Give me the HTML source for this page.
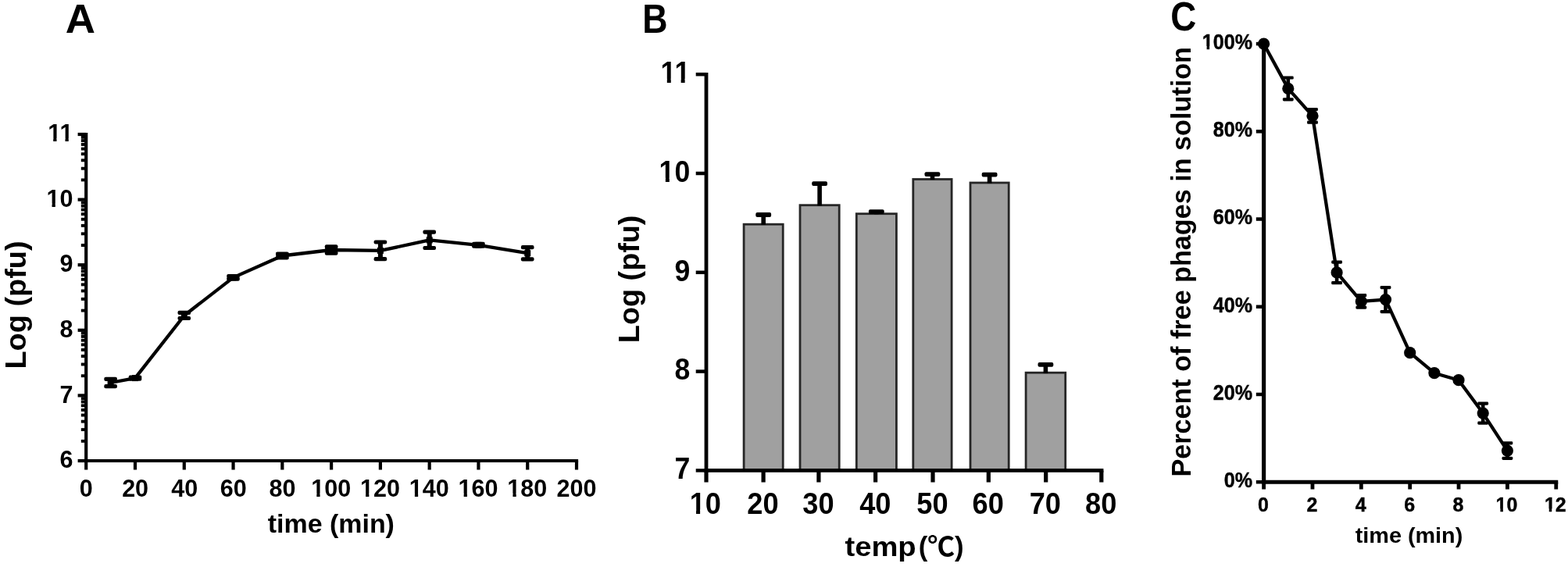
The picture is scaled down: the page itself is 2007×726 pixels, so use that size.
<!DOCTYPE html>
<html><head><meta charset="utf-8"><title>Figure: phage growth, thermal stability and adsorption</title>
<style>
html,body{margin:0;padding:0;background:#fff;}
body{width:2007px;height:726px;overflow:hidden;}
svg{display:block;}
</style></head>
<body>
<svg width="2007" height="726" viewBox="0 0 2007 726">
<rect width="2007" height="726" fill="#fff"/>
<g stroke="#000" fill="none">
<line x1="110.20" y1="170.00" x2="110.20" y2="592.10" stroke-width="4.2"/>
<line x1="108.10" y1="590.00" x2="740.10" y2="590.00" stroke-width="4.2"/>
<line x1="110.20" y1="590.00" x2="99.60" y2="590.00" stroke-width="4.2"/>
<line x1="110.20" y1="506.40" x2="99.60" y2="506.40" stroke-width="4.2"/>
<line x1="110.20" y1="422.80" x2="99.60" y2="422.80" stroke-width="4.2"/>
<line x1="110.20" y1="339.20" x2="99.60" y2="339.20" stroke-width="4.2"/>
<line x1="110.20" y1="255.60" x2="99.60" y2="255.60" stroke-width="4.2"/>
<line x1="110.20" y1="172.00" x2="99.60" y2="172.00" stroke-width="4.2"/>
<line x1="110.20" y1="564.83" x2="103.80" y2="564.83" stroke-width="3.9"/>
<line x1="110.20" y1="550.11" x2="103.80" y2="550.11" stroke-width="3.9"/>
<line x1="110.20" y1="539.67" x2="103.80" y2="539.67" stroke-width="3.9"/>
<line x1="110.20" y1="531.57" x2="103.80" y2="531.57" stroke-width="3.9"/>
<line x1="110.20" y1="524.95" x2="103.80" y2="524.95" stroke-width="3.9"/>
<line x1="110.20" y1="519.35" x2="103.80" y2="519.35" stroke-width="3.9"/>
<line x1="110.20" y1="514.50" x2="103.80" y2="514.50" stroke-width="3.9"/>
<line x1="110.20" y1="510.23" x2="103.80" y2="510.23" stroke-width="3.9"/>
<line x1="110.20" y1="481.23" x2="103.80" y2="481.23" stroke-width="3.9"/>
<line x1="110.20" y1="466.51" x2="103.80" y2="466.51" stroke-width="3.9"/>
<line x1="110.20" y1="456.07" x2="103.80" y2="456.07" stroke-width="3.9"/>
<line x1="110.20" y1="447.97" x2="103.80" y2="447.97" stroke-width="3.9"/>
<line x1="110.20" y1="441.35" x2="103.80" y2="441.35" stroke-width="3.9"/>
<line x1="110.20" y1="435.75" x2="103.80" y2="435.75" stroke-width="3.9"/>
<line x1="110.20" y1="430.90" x2="103.80" y2="430.90" stroke-width="3.9"/>
<line x1="110.20" y1="426.63" x2="103.80" y2="426.63" stroke-width="3.9"/>
<line x1="110.20" y1="397.63" x2="103.80" y2="397.63" stroke-width="3.9"/>
<line x1="110.20" y1="382.91" x2="103.80" y2="382.91" stroke-width="3.9"/>
<line x1="110.20" y1="372.47" x2="103.80" y2="372.47" stroke-width="3.9"/>
<line x1="110.20" y1="364.37" x2="103.80" y2="364.37" stroke-width="3.9"/>
<line x1="110.20" y1="357.75" x2="103.80" y2="357.75" stroke-width="3.9"/>
<line x1="110.20" y1="352.15" x2="103.80" y2="352.15" stroke-width="3.9"/>
<line x1="110.20" y1="347.30" x2="103.80" y2="347.30" stroke-width="3.9"/>
<line x1="110.20" y1="343.03" x2="103.80" y2="343.03" stroke-width="3.9"/>
<line x1="110.20" y1="314.03" x2="103.80" y2="314.03" stroke-width="3.9"/>
<line x1="110.20" y1="299.31" x2="103.80" y2="299.31" stroke-width="3.9"/>
<line x1="110.20" y1="288.87" x2="103.80" y2="288.87" stroke-width="3.9"/>
<line x1="110.20" y1="280.77" x2="103.80" y2="280.77" stroke-width="3.9"/>
<line x1="110.20" y1="274.15" x2="103.80" y2="274.15" stroke-width="3.9"/>
<line x1="110.20" y1="268.55" x2="103.80" y2="268.55" stroke-width="3.9"/>
<line x1="110.20" y1="263.70" x2="103.80" y2="263.70" stroke-width="3.9"/>
<line x1="110.20" y1="259.43" x2="103.80" y2="259.43" stroke-width="3.9"/>
<line x1="110.20" y1="230.43" x2="103.80" y2="230.43" stroke-width="3.9"/>
<line x1="110.20" y1="215.71" x2="103.80" y2="215.71" stroke-width="3.9"/>
<line x1="110.20" y1="205.27" x2="103.80" y2="205.27" stroke-width="3.9"/>
<line x1="110.20" y1="197.17" x2="103.80" y2="197.17" stroke-width="3.9"/>
<line x1="110.20" y1="190.55" x2="103.80" y2="190.55" stroke-width="3.9"/>
<line x1="110.20" y1="184.95" x2="103.80" y2="184.95" stroke-width="3.9"/>
<line x1="110.20" y1="180.10" x2="103.80" y2="180.10" stroke-width="3.9"/>
<line x1="110.20" y1="175.83" x2="103.80" y2="175.83" stroke-width="3.9"/>
<line x1="110.20" y1="590.00" x2="110.20" y2="601.50" stroke-width="4.2"/>
<line x1="172.98" y1="590.00" x2="172.98" y2="601.50" stroke-width="4.2"/>
<line x1="235.76" y1="590.00" x2="235.76" y2="601.50" stroke-width="4.2"/>
<line x1="298.54" y1="590.00" x2="298.54" y2="601.50" stroke-width="4.2"/>
<line x1="361.32" y1="590.00" x2="361.32" y2="601.50" stroke-width="4.2"/>
<line x1="424.10" y1="590.00" x2="424.10" y2="601.50" stroke-width="4.2"/>
<line x1="486.88" y1="590.00" x2="486.88" y2="601.50" stroke-width="4.2"/>
<line x1="549.66" y1="590.00" x2="549.66" y2="601.50" stroke-width="4.2"/>
<line x1="612.44" y1="590.00" x2="612.44" y2="601.50" stroke-width="4.2"/>
<line x1="675.22" y1="590.00" x2="675.22" y2="601.50" stroke-width="4.2"/>
<line x1="738.00" y1="590.00" x2="738.00" y2="601.50" stroke-width="4.2"/>
</g>
<polyline points="141.6,490.0 173.0,484.1 235.8,404.0 298.5,355.4 361.3,327.5 424.1,320.0 486.9,320.9 549.7,307.4 612.4,313.8 675.2,324.2" fill="none" stroke="#000" stroke-width="4.3" stroke-linejoin="round"/>
<g fill="#000" stroke="none">
<rect x="138.6" y="485.4" width="6" height="9.2"/>
<rect x="133.3" y="482.8" width="16.6" height="5.2" rx="2"/>
<rect x="133.3" y="492.0" width="16.6" height="5.2" rx="2"/>
<rect x="137.6" y="486.0" width="8.0" height="8"/>
<rect x="170.0" y="483.0" width="6" height="2.2"/>
<rect x="164.7" y="480.4" width="16.6" height="5.2" rx="2"/>
<rect x="164.7" y="482.6" width="16.6" height="5.2" rx="2"/>
<rect x="169.0" y="480.1" width="8.0" height="8"/>
<rect x="232.8" y="400.4" width="6" height="7.1"/>
<rect x="227.5" y="397.8" width="16.6" height="5.2" rx="2"/>
<rect x="227.5" y="404.9" width="16.6" height="5.2" rx="2"/>
<rect x="231.8" y="400.0" width="8.0" height="8"/>
<rect x="295.5" y="353.5" width="6" height="3.7"/>
<rect x="290.2" y="350.9" width="16.6" height="5.2" rx="2"/>
<rect x="290.2" y="354.6" width="16.6" height="5.2" rx="2"/>
<rect x="294.5" y="351.4" width="8.0" height="8"/>
<rect x="358.3" y="325.0" width="6" height="5.0"/>
<rect x="353.0" y="322.4" width="16.6" height="5.2" rx="2"/>
<rect x="353.0" y="327.4" width="16.6" height="5.2" rx="2"/>
<rect x="353.3" y="323.5" width="16.0" height="8"/>
<rect x="421.1" y="315.9" width="6" height="8.3"/>
<rect x="415.8" y="313.2" width="16.6" height="5.2" rx="2"/>
<rect x="415.8" y="321.5" width="16.6" height="5.2" rx="2"/>
<rect x="416.1" y="316.0" width="16.0" height="8"/>
<rect x="483.9" y="310.0" width="6" height="21.7"/>
<rect x="478.6" y="307.4" width="16.6" height="5.2" rx="2"/>
<rect x="478.6" y="329.1" width="16.6" height="5.2" rx="2"/>
<rect x="482.9" y="316.9" width="8.0" height="8"/>
<rect x="546.7" y="297.2" width="6" height="20.3"/>
<rect x="541.4" y="294.6" width="16.6" height="5.2" rx="2"/>
<rect x="541.4" y="314.9" width="16.6" height="5.2" rx="2"/>
<rect x="545.7" y="303.4" width="8.0" height="8"/>
<rect x="609.4" y="312.4" width="6" height="2.8"/>
<rect x="604.1" y="309.8" width="16.6" height="5.2" rx="2"/>
<rect x="604.1" y="312.6" width="16.6" height="5.2" rx="2"/>
<rect x="608.4" y="309.8" width="8.0" height="8"/>
<rect x="672.2" y="316.6" width="6" height="15.3"/>
<rect x="666.9" y="314.0" width="16.6" height="5.2" rx="2"/>
<rect x="666.9" y="329.3" width="16.6" height="5.2" rx="2"/>
<rect x="671.2" y="320.2" width="8.0" height="8"/>
</g>
<g>
<rect x="952.1" y="287.2" width="50.1" height="315.2" fill="#a0a0a0" stroke="#262626" stroke-width="2.8"/>
<rect x="1024.0" y="262.7" width="50.2" height="339.7" fill="#a0a0a0" stroke="#262626" stroke-width="2.8"/>
<rect x="1096.3" y="273.7" width="51.1" height="328.7" fill="#a0a0a0" stroke="#262626" stroke-width="2.8"/>
<rect x="1168.8" y="229.5" width="49.3" height="372.9" fill="#a0a0a0" stroke="#262626" stroke-width="2.8"/>
<rect x="1242.0" y="234.0" width="49.2" height="368.4" fill="#a0a0a0" stroke="#262626" stroke-width="2.8"/>
<rect x="1313.1" y="477.2" width="50.6" height="125.2" fill="#a0a0a0" stroke="#262626" stroke-width="2.8"/>
</g>
<g fill="#000" stroke="none">
<rect x="974.4" y="273.6" width="5.6" height="14.2"/>
<rect x="967.3" y="272.1" width="19.8" height="5.8" rx="2"/>
<rect x="1046.3" y="233.7" width="5.6" height="29.6"/>
<rect x="1039.2" y="232.2" width="19.8" height="5.8" rx="2"/>
<rect x="1119.0" y="269.8" width="5.6" height="4.5"/>
<rect x="1111.9" y="268.3" width="19.8" height="5.8" rx="2"/>
<rect x="1190.7" y="221.8" width="5.6" height="8.3"/>
<rect x="1183.5" y="220.3" width="19.8" height="5.8" rx="2"/>
<rect x="1263.8" y="222.2" width="5.6" height="12.4"/>
<rect x="1256.7" y="220.7" width="19.8" height="5.8" rx="2"/>
<rect x="1335.6" y="465.4" width="5.6" height="12.4"/>
<rect x="1328.5" y="463.9" width="19.8" height="5.8" rx="2"/>
</g>
<g stroke="#000" fill="none">
<line x1="904.00" y1="93.00" x2="904.00" y2="604.80" stroke-width="4.8"/>
<line x1="901.60" y1="602.40" x2="1412.40" y2="602.40" stroke-width="4.7"/>
<line x1="904.00" y1="602.40" x2="890.70" y2="602.40" stroke-width="4.5"/>
<line x1="904.00" y1="475.60" x2="890.70" y2="475.60" stroke-width="4.5"/>
<line x1="904.00" y1="348.80" x2="890.70" y2="348.80" stroke-width="4.5"/>
<line x1="904.00" y1="222.00" x2="890.70" y2="222.00" stroke-width="4.5"/>
<line x1="904.00" y1="95.20" x2="890.70" y2="95.20" stroke-width="4.5"/>
<line x1="904.00" y1="602.40" x2="904.00" y2="617.50" stroke-width="5.2"/>
<line x1="977.10" y1="602.40" x2="977.10" y2="617.50" stroke-width="5.2"/>
<line x1="1047.90" y1="602.40" x2="1047.90" y2="617.50" stroke-width="5.2"/>
<line x1="1120.60" y1="602.40" x2="1120.60" y2="617.50" stroke-width="5.2"/>
<line x1="1194.00" y1="602.40" x2="1194.00" y2="617.50" stroke-width="5.2"/>
<line x1="1265.30" y1="602.40" x2="1265.30" y2="617.50" stroke-width="5.2"/>
<line x1="1338.70" y1="602.40" x2="1338.70" y2="617.50" stroke-width="5.2"/>
<line x1="1409.80" y1="602.40" x2="1409.80" y2="617.50" stroke-width="5.2"/>
</g>
<g stroke="#000" fill="none">
<line x1="1617.60" y1="54.10" x2="1617.60" y2="619.70" stroke-width="5.2"/>
<line x1="1615.00" y1="617.20" x2="1994.26" y2="617.20" stroke-width="5"/>
<line x1="1617.60" y1="617.20" x2="1607.80" y2="617.20" stroke-width="4.5"/>
<line x1="1617.60" y1="504.98" x2="1607.80" y2="504.98" stroke-width="4.5"/>
<line x1="1617.60" y1="392.76" x2="1607.80" y2="392.76" stroke-width="4.5"/>
<line x1="1617.60" y1="280.54" x2="1607.80" y2="280.54" stroke-width="4.5"/>
<line x1="1617.60" y1="168.32" x2="1607.80" y2="168.32" stroke-width="4.5"/>
<line x1="1617.60" y1="56.10" x2="1607.80" y2="56.10" stroke-width="4.5"/>
<line x1="1617.60" y1="617.20" x2="1617.60" y2="626.50" stroke-width="4.8"/>
<line x1="1679.96" y1="617.20" x2="1679.96" y2="626.50" stroke-width="4.8"/>
<line x1="1742.32" y1="617.20" x2="1742.32" y2="626.50" stroke-width="4.8"/>
<line x1="1804.68" y1="617.20" x2="1804.68" y2="626.50" stroke-width="4.8"/>
<line x1="1867.04" y1="617.20" x2="1867.04" y2="626.50" stroke-width="4.8"/>
<line x1="1929.40" y1="617.20" x2="1929.40" y2="626.50" stroke-width="4.8"/>
<line x1="1991.76" y1="617.20" x2="1991.76" y2="626.50" stroke-width="4.8"/>
</g>
<polyline points="1617.6,56.2 1648.8,113.4 1680.0,148.4 1711.1,348.9 1742.3,385.9 1773.5,383.6 1804.7,451.7 1835.9,477.7 1867.0,486.7 1898.2,529.1 1929.4,577.1" fill="none" stroke="#000" stroke-width="4.3" stroke-linejoin="round"/>
<g fill="#000" stroke="none">
<circle cx="1617.6" cy="56.2" r="7.6"/>
<rect x="1646.5" y="99.5" width="4.6" height="27.8"/>
<rect x="1641.9" y="97.4" width="13.8" height="4.2" rx="1.4"/>
<rect x="1641.9" y="125.2" width="13.8" height="4.2" rx="1.4"/>
<circle cx="1648.8" cy="113.4" r="7.6"/>
<rect x="1677.7" y="140.1" width="4.6" height="16.6"/>
<rect x="1673.1" y="138.0" width="13.8" height="4.2" rx="1.4"/>
<rect x="1673.1" y="154.6" width="13.8" height="4.2" rx="1.4"/>
<circle cx="1680.0" cy="148.4" r="7.6"/>
<rect x="1708.8" y="335.6" width="4.6" height="26.6"/>
<rect x="1704.2" y="333.5" width="13.8" height="4.2" rx="1.4"/>
<rect x="1704.2" y="360.1" width="13.8" height="4.2" rx="1.4"/>
<circle cx="1711.1" cy="348.9" r="7.6"/>
<rect x="1740.0" y="378.2" width="4.6" height="15.4"/>
<rect x="1735.4" y="376.1" width="13.8" height="4.2" rx="1.4"/>
<rect x="1735.4" y="391.5" width="13.8" height="4.2" rx="1.4"/>
<circle cx="1742.3" cy="385.9" r="7.6"/>
<rect x="1771.2" y="368.1" width="4.6" height="31.0"/>
<rect x="1766.6" y="366.0" width="13.8" height="4.2" rx="1.4"/>
<rect x="1766.6" y="397.0" width="13.8" height="4.2" rx="1.4"/>
<circle cx="1773.5" cy="383.6" r="7.6"/>
<circle cx="1804.7" cy="451.7" r="7.6"/>
<circle cx="1835.9" cy="477.7" r="7.6"/>
<circle cx="1867.0" cy="486.7" r="7.6"/>
<rect x="1895.9" y="516.6" width="4.6" height="25.0"/>
<rect x="1891.3" y="514.5" width="13.8" height="4.2" rx="1.4"/>
<rect x="1891.3" y="539.5" width="13.8" height="4.2" rx="1.4"/>
<circle cx="1898.2" cy="529.1" r="7.6"/>
<rect x="1927.1" y="567.3" width="4.6" height="19.6"/>
<rect x="1922.5" y="565.2" width="13.8" height="4.2" rx="1.4"/>
<rect x="1922.5" y="584.8" width="13.8" height="4.2" rx="1.4"/>
<circle cx="1929.4" cy="577.1" r="7.6"/>
</g>
<g font-family='"Liberation Sans", Arial, Helvetica, sans-serif' font-weight="bold" fill="#000">
<text transform="translate(83.68 41.90) scale(1.0308 1)" font-size="51.40">A</text>
<text transform="translate(822.19 41.50) scale(0.8525 1)" font-size="52.50">B</text>
<text transform="translate(1498.27 39.30) scale(0.8911 1)" font-size="51.40">C</text>
<text transform="translate(76.44 599.22)" font-size="30.50">6</text>
<text transform="translate(76.44 515.62)" font-size="30.50">7</text>
<text transform="translate(76.44 432.02)" font-size="30.50">8</text>
<text transform="translate(76.44 348.42)" font-size="30.50">9</text>
<text transform="translate(59.47 264.82)" font-size="30.50">10</text>
<text transform="translate(61.16 181.22)" font-size="30.50">11</text>
<text transform="translate(101.74 636.00)" font-size="30.50">0</text>
<text transform="translate(156.13 636.00)" font-size="30.50">20</text>
<text transform="translate(219.21 636.00)" font-size="30.50">40</text>
<text transform="translate(281.69 636.00)" font-size="30.50">60</text>
<text transform="translate(344.55 636.00)" font-size="30.50">80</text>
<text transform="translate(398.25 636.00)" font-size="30.50">100</text>
<text transform="translate(461.03 636.00)" font-size="30.50">120</text>
<text transform="translate(523.81 636.00)" font-size="30.50">140</text>
<text transform="translate(586.59 636.00)" font-size="30.50">160</text>
<text transform="translate(649.37 636.00)" font-size="30.50">180</text>
<text transform="translate(712.61 636.00)" font-size="30.50">200</text>
<text transform="translate(342.76 682.00) scale(0.9983 1)" font-size="34.00">time (min)</text>
<text transform="translate(32.50 472.56) rotate(-90) scale(1.0110 1)" font-size="37.50">Log (pfu)</text>
<text transform="translate(863.39 613.28) scale(0.9250 1)" font-size="38.50">7</text>
<text transform="translate(863.39 486.48) scale(0.9250 1)" font-size="38.50">8</text>
<text transform="translate(863.39 359.68) scale(0.9250 1)" font-size="38.50">9</text>
<text transform="translate(843.59 232.88) scale(0.9250 1)" font-size="38.50">10</text>
<text transform="translate(845.55 106.08) scale(0.9250 1)" font-size="38.50">11</text>
<text transform="translate(882.66 657.60) scale(0.9400 1)" font-size="38.50">10</text>
<text transform="translate(956.31 657.60) scale(0.9400 1)" font-size="38.50">20</text>
<text transform="translate(1027.29 657.60) scale(0.9400 1)" font-size="38.50">30</text>
<text transform="translate(1100.17 657.60) scale(0.9400 1)" font-size="38.50">40</text>
<text transform="translate(1173.30 657.60) scale(0.9400 1)" font-size="38.50">50</text>
<text transform="translate(1244.51 657.60) scale(0.9400 1)" font-size="38.50">60</text>
<text transform="translate(1317.72 657.60) scale(0.9400 1)" font-size="38.50">70</text>
<text transform="translate(1389.10 657.60) scale(0.9400 1)" font-size="38.50">80</text>
<text transform="translate(1081.42 712.30) scale(1.1139 1)" font-size="34.30">temp</text>
<text transform="translate(1175.66 712.30) scale(1.0134 1)" font-size="34.30">(<tspan font-family='"Noto Sans CJK SC", "Noto Sans CJK JP", sans-serif'>℃</tspan>)</text>
<text transform="translate(817.60 439.16) rotate(-90) scale(1.0078 1)" font-size="37.50">Log (pfu)</text>
<g stroke="#000" stroke-width="0.45">
<text transform="translate(1566.71 624.12) scale(0.9300 1)" font-size="27.00">0%</text>
<text transform="translate(1552.74 511.90) scale(0.9300 1)" font-size="27.00">20%</text>
<text transform="translate(1552.74 399.68) scale(0.9300 1)" font-size="27.00">40%</text>
<text transform="translate(1552.74 287.46) scale(0.9300 1)" font-size="27.00">60%</text>
<text transform="translate(1552.74 175.24) scale(0.9300 1)" font-size="27.00">80%</text>
<text transform="translate(1538.78 63.02) scale(0.9300 1)" font-size="27.00">100%</text>
<text transform="translate(1610.06 655.30) scale(0.9400 1)" font-size="26.60">0</text>
<text transform="translate(1672.48 655.30) scale(0.9400 1)" font-size="26.60">2</text>
<text transform="translate(1734.66 655.30) scale(0.9400 1)" font-size="26.60">4</text>
<text transform="translate(1797.14 655.30) scale(0.9400 1)" font-size="26.60">6</text>
<text transform="translate(1859.50 655.30) scale(0.9400 1)" font-size="26.60">8</text>
<text transform="translate(1914.61 655.30) scale(0.9400 1)" font-size="26.60">10</text>
<text transform="translate(1976.97 655.30) scale(0.9400 1)" font-size="26.60">12</text>
</g>
<text transform="translate(1734.71 695.00) scale(1.0470 1)" font-size="27.50">time (min)</text>
<text transform="translate(1523.60 610.62) rotate(-90) scale(0.9766 1)" font-size="35.00">Percent of free phages in solution</text>
</g>
<g fill="#fff">
<rect transform="translate(59.47 264.82)" x="0.62" y="-4.26" width="6.44" height="5.36"/>
<rect transform="translate(59.47 264.82)" x="11.33" y="-4.26" width="5.92" height="5.36"/>
<rect transform="translate(61.16 181.22)" x="0.62" y="-4.26" width="6.44" height="5.36"/>
<rect transform="translate(61.16 181.22)" x="11.33" y="-4.26" width="5.92" height="5.36"/>
<rect transform="translate(61.16 181.22)" x="15.90" y="-4.26" width="6.44" height="5.36"/>
<rect transform="translate(61.16 181.22)" x="26.61" y="-4.26" width="5.92" height="5.36"/>
<rect transform="translate(398.25 636.00)" x="0.62" y="-4.26" width="6.44" height="5.36"/>
<rect transform="translate(398.25 636.00)" x="11.33" y="-4.26" width="5.92" height="5.36"/>
<rect transform="translate(461.03 636.00)" x="0.62" y="-4.26" width="6.44" height="5.36"/>
<rect transform="translate(461.03 636.00)" x="11.33" y="-4.26" width="5.92" height="5.36"/>
<rect transform="translate(523.81 636.00)" x="0.62" y="-4.26" width="6.44" height="5.36"/>
<rect transform="translate(523.81 636.00)" x="11.33" y="-4.26" width="5.92" height="5.36"/>
<rect transform="translate(586.59 636.00)" x="0.62" y="-4.26" width="6.44" height="5.36"/>
<rect transform="translate(586.59 636.00)" x="11.33" y="-4.26" width="5.92" height="5.36"/>
<rect transform="translate(649.37 636.00)" x="0.62" y="-4.26" width="6.44" height="5.36"/>
<rect transform="translate(649.37 636.00)" x="11.33" y="-4.26" width="5.92" height="5.36"/>
<rect transform="translate(843.59 232.88) scale(0.9250 1)" x="1.13" y="-5.08" width="7.79" height="6.18"/>
<rect transform="translate(843.59 232.88) scale(0.9250 1)" x="14.30" y="-5.08" width="7.13" height="6.18"/>
<rect transform="translate(845.55 106.08) scale(0.9250 1)" x="1.13" y="-5.08" width="7.79" height="6.18"/>
<rect transform="translate(845.55 106.08) scale(0.9250 1)" x="14.30" y="-5.08" width="7.13" height="6.18"/>
<rect transform="translate(845.55 106.08) scale(0.9250 1)" x="20.41" y="-5.08" width="7.79" height="6.18"/>
<rect transform="translate(845.55 106.08) scale(0.9250 1)" x="33.59" y="-5.08" width="7.13" height="6.18"/>
<rect transform="translate(882.66 657.60) scale(0.9400 1)" x="1.13" y="-5.08" width="7.79" height="6.18"/>
<rect transform="translate(882.66 657.60) scale(0.9400 1)" x="14.30" y="-5.08" width="7.13" height="6.18"/>
<rect transform="translate(1538.78 63.02) scale(0.9300 1)" x="0.40" y="-3.89" width="5.85" height="4.99"/>
<rect transform="translate(1538.78 63.02) scale(0.9300 1)" x="10.03" y="-3.89" width="5.39" height="4.99"/>
<rect transform="translate(1914.61 655.30) scale(0.9400 1)" x="0.38" y="-3.85" width="5.78" height="4.95"/>
<rect transform="translate(1914.61 655.30) scale(0.9400 1)" x="9.88" y="-3.85" width="5.33" height="4.95"/>
<rect transform="translate(1976.97 655.30) scale(0.9400 1)" x="0.38" y="-3.85" width="5.78" height="4.95"/>
<rect transform="translate(1976.97 655.30) scale(0.9400 1)" x="9.88" y="-3.85" width="5.33" height="4.95"/>
</g>
</svg>
</body></html>
